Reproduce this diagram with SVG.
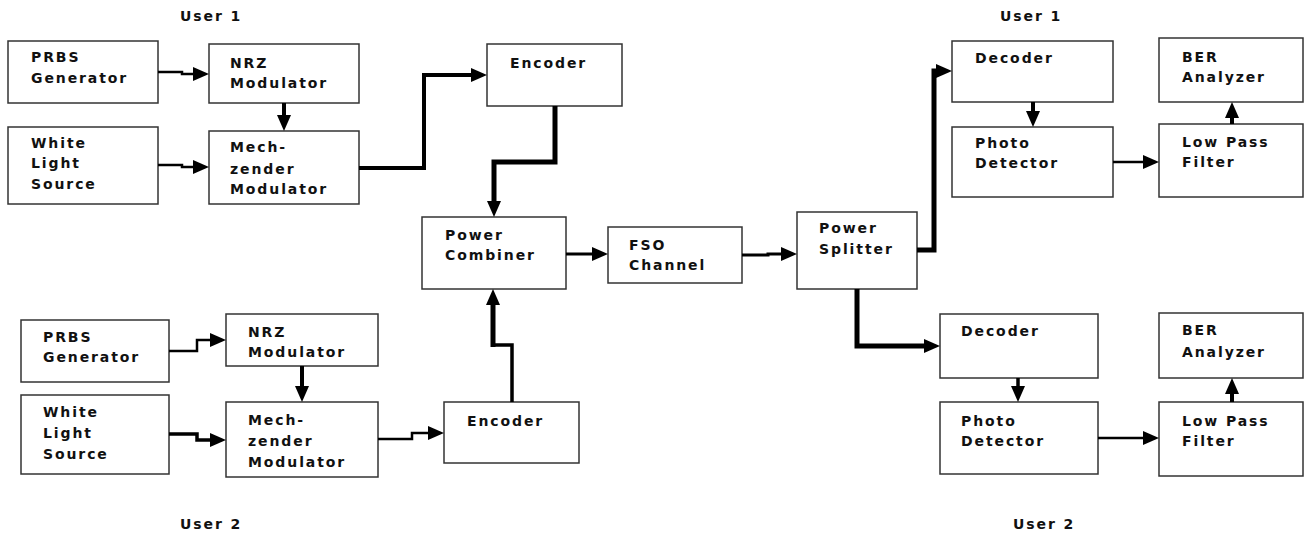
<svg xmlns="http://www.w3.org/2000/svg" width="1304" height="533" viewBox="0 0 1304 533">
<defs>
<style>
.box{fill:#fff;stroke:#333;stroke-width:1.5}
.t{font-family:"DejaVu Sans",Verdana,sans-serif;font-weight:bold;font-size:14px;letter-spacing:1.9px;fill:#111}
.c{fill:none;stroke:#000;stroke-linejoin:miter}
</style>
<marker id="ah" markerUnits="userSpaceOnUse" markerWidth="16" markerHeight="14" refX="9" refY="7" orient="auto" overflow="visible">
<path d="M0,0 L16,7 L0,14 z" fill="#000"/>
</marker>
</defs>
<rect width="1304" height="533" fill="#fff"/>

<g id="labels">
<text class="t" x="180" y="21">User 1</text>
<text class="t" x="1000" y="21">User 1</text>
<text class="t" x="180" y="529">User 2</text>
<text class="t" x="1013" y="529">User 2</text>
</g>

<g id="prbs1"><rect class="box" x="8" y="41" width="150" height="62"/><text class="t" x="31" y="62">PRBS</text><text class="t" x="31" y="83">Generator</text></g>
<g id="nrz1"><rect class="box" x="209" y="44" width="150" height="59"/><text class="t" x="230" y="68">NRZ</text><text class="t" x="230" y="88">Modulator</text></g>
<g id="white1"><rect class="box" x="8" y="127" width="150" height="77"/><text class="t" x="31" y="148">White</text><text class="t" x="31" y="168">Light</text><text class="t" x="31" y="189">Source</text></g>
<g id="mz1"><rect class="box" x="209" y="131" width="150" height="73"/><text class="t" x="230" y="152">Mech-</text><text class="t" x="230" y="174">zender</text><text class="t" x="230" y="194">Modulator</text></g>
<g id="enc1"><rect class="box" x="487" y="44" width="135" height="62"/><text class="t" x="510" y="68">Encoder</text></g>
<g id="comb"><rect class="box" x="422" y="217" width="144" height="72"/><text class="t" x="445" y="240">Power</text><text class="t" x="445" y="260">Combiner</text></g>
<g id="fso"><rect class="box" x="608" y="227" width="134" height="56"/><text class="t" x="629" y="250">FSO</text><text class="t" x="629" y="270">Channel</text></g>
<g id="split"><rect class="box" x="797" y="212" width="120" height="77"/><text class="t" x="819" y="233">Power</text><text class="t" x="819" y="254">Splitter</text></g>
<g id="dec1"><rect class="box" x="952" y="41" width="161" height="61"/><text class="t" x="975" y="63">Decoder</text></g>
<g id="pd1"><rect class="box" x="952" y="127" width="161" height="70"/><text class="t" x="975" y="148">Photo</text><text class="t" x="975" y="168">Detector</text></g>
<g id="ber1"><rect class="box" x="1159" y="38" width="144" height="64"/><text class="t" x="1182" y="62">BER</text><text class="t" x="1182" y="82">Analyzer</text></g>
<g id="lpf1"><rect class="box" x="1159" y="124" width="144" height="73"/><text class="t" x="1182" y="147">Low Pass</text><text class="t" x="1182" y="167">Filter</text></g>

<g id="prbs2"><rect class="box" x="21" y="320" width="148" height="62"/><text class="t" x="43" y="342">PRBS</text><text class="t" x="43" y="362">Generator</text></g>
<g id="nrz2"><rect class="box" x="226" y="314" width="152" height="52"/><text class="t" x="248" y="337">NRZ</text><text class="t" x="248" y="357">Modulator</text></g>
<g id="white2"><rect class="box" x="21" y="395" width="148" height="79"/><text class="t" x="43" y="417">White</text><text class="t" x="43" y="438">Light</text><text class="t" x="43" y="459">Source</text></g>
<g id="mz2"><rect class="box" x="226" y="402" width="152" height="75"/><text class="t" x="248" y="425">Mech-</text><text class="t" x="248" y="446">zender</text><text class="t" x="248" y="467">Modulator</text></g>
<g id="enc2"><rect class="box" x="444" y="402" width="135" height="61"/><text class="t" x="467" y="426">Encoder</text></g>
<g id="dec2"><rect class="box" x="940" y="314" width="158" height="64"/><text class="t" x="961" y="336">Decoder</text></g>
<g id="pd2"><rect class="box" x="940" y="402" width="158" height="72"/><text class="t" x="961" y="426">Photo</text><text class="t" x="961" y="446">Detector</text></g>
<g id="ber2"><rect class="box" x="1159" y="313" width="144" height="65"/><text class="t" x="1182" y="335">BER</text><text class="t" x="1182" y="357">Analyzer</text></g>
<g id="lpf2"><rect class="box" x="1159" y="402" width="144" height="74"/><text class="t" x="1182" y="426">Low Pass</text><text class="t" x="1182" y="446">Filter</text></g>

<g id="connectors">
<path class="c" stroke-width="2.5" d="M158,72 H182 V74 H202" marker-end="url(#ah)"/>
<path class="c" stroke-width="2.5" d="M158,165 H182 V167 H202" marker-end="url(#ah)"/>
<path class="c" stroke-width="4" d="M284,103 V124" marker-end="url(#ah)"/>
<path class="c" stroke-width="4" d="M359,168 H424 V75 H480" marker-end="url(#ah)"/>
<path class="c" stroke-width="5" d="M555,106 V162 H494 V210" marker-end="url(#ah)"/>
<path class="c" stroke-width="3" d="M566,254 H601" marker-end="url(#ah)"/>
<path class="c" stroke-width="3" d="M742,255 H768 V254 H790" marker-end="url(#ah)"/>
<path class="c" stroke-width="5" d="M917,250 H934 V71 H945" marker-end="url(#ah)"/>
<path class="c" stroke-width="5" d="M857,289 V346 H933" marker-end="url(#ah)"/>
<path class="c" stroke-width="4" d="M1033,102 V120" marker-end="url(#ah)"/>
<path class="c" stroke-width="2.5" d="M1113,162 H1152" marker-end="url(#ah)"/>
<path class="c" stroke-width="4" d="M1232,124 V109" marker-end="url(#ah)"/>
<path class="c" stroke-width="2.5" d="M169,351 H197 V340 H219" marker-end="url(#ah)"/>
<path class="c" stroke-width="3.5" d="M169,434 H197 V440 H219" marker-end="url(#ah)"/>
<path class="c" stroke-width="4" d="M302,366 V395" marker-end="url(#ah)"/>
<path class="c" stroke-width="2.5" d="M378,439 H412 V433 H437" marker-end="url(#ah)"/>
<path class="c" stroke-width="3.5" d="M512,402 V345 H492"/>
<path class="c" stroke-width="5" d="M493,347 V296" marker-end="url(#ah)"/>
<path class="c" stroke-width="3.5" d="M1018,378 V395" marker-end="url(#ah)"/>
<path class="c" stroke-width="2.5" d="M1098,438 H1152" marker-end="url(#ah)"/>
<path class="c" stroke-width="4" d="M1232,402 V385" marker-end="url(#ah)"/>
</g>
</svg>
